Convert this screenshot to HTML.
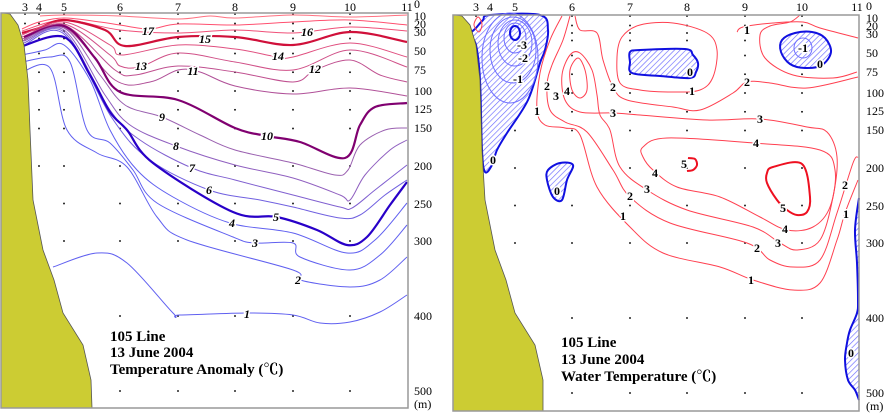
<!DOCTYPE html>
<html><head><meta charset="utf-8"><style>
html,body{margin:0;padding:0;background:#fff;}
svg{display:block;}
.st{font-family:"Liberation Serif",serif;font-size:12px;fill:#000;}
.ax{font-family:"Liberation Serif",serif;font-size:12px;fill:#000;}
.cl{font-family:"Liberation Serif",serif;font-size:12px;font-weight:bold;font-style:italic;fill:#000;stroke:#fff;stroke-width:3px;paint-order:stroke;text-anchor:middle;dominant-baseline:central;}
.cr{font-family:"Liberation Serif",serif;font-size:12px;font-weight:bold;fill:#000;stroke:#fff;stroke-width:3px;paint-order:stroke;text-anchor:middle;dominant-baseline:central;}
.tt{font-family:"Liberation Serif","Noto Serif CJK SC",serif;font-size:15px;font-weight:bold;fill:#000;}
</style></head><body>
<svg id="s" width="884" height="413" viewBox="0 0 884 413" xmlns="http://www.w3.org/2000/svg">
<defs>
<pattern id="hatch" width="4" height="4" patternUnits="userSpaceOnUse" patternTransform="rotate(45)">
<rect width="4" height="4" fill="#fff"/><line x1="0" y1="0" x2="0" y2="4" stroke="#6a6aff" stroke-width="1.3"/>
</pattern>
</defs>
<g id="dots"></g>
<g id="lines"></g>
<polygon fill="#cccc33" stroke="#555" stroke-width="0.8" points="1,13 3,13 10,14 18,25 24,45 28,80 30,130 33,200 43,250 54,280 63,313 83,345 91,380 92,408 1,408"/>
<polygon fill="#cccc33" stroke="#555" stroke-width="0.8" points="453,15 455,15 462,16 470,25 476,45 480,80 482,150 485,200 495,250 506,280 515,313 535,345 543,380 543,411 453,411"/>
<rect x="1" y="13" width="407" height="395" fill="none" stroke="#999" stroke-width="1.5"/>
<rect x="453" y="15" width="406" height="396" fill="none" stroke="#999" stroke-width="1.5"/>
<g class="st" text-anchor="middle">
<text x="25" y="11">3</text><text x="39" y="11">4</text><text x="64" y="11">5</text><text x="120" y="11">6</text><text x="178" y="11">7</text><text x="235" y="11">8</text><text x="293" y="11">9</text><text x="350" y="11">10</text><text x="407" y="11">11</text>
<text x="476" y="11">3</text><text x="490" y="11">4</text><text x="515" y="11">5</text><text x="572" y="11">6</text><text x="630" y="11">7</text><text x="687" y="11">8</text><text x="745" y="11">9</text><text x="802" y="11">10</text><text x="857" y="11">11</text>
</g>
<g class="cl">
<text x="148" y="31">17</text><text x="205" y="39">15</text><text x="307" y="32">16</text><text x="278" y="56">14</text><text x="141" y="66">13</text><text x="193" y="71">11</text><text x="315" y="69">12</text><text x="162" y="117">9</text><text x="267" y="136">10</text><text x="176" y="146">8</text><text x="192" y="168">7</text><text x="209" y="190">6</text><text x="276" y="217">5</text><text x="232" y="223">4</text><text x="255" y="243">3</text><text x="298" y="280">2</text><text x="247" y="314">1</text>
</g>
<g class="cr">
<text x="493" y="160">0</text><text x="690" y="72">0</text><text x="820" y="64">0</text><text x="557" y="191">0</text><text x="851" y="353">0</text>
<text x="518" y="79">-1</text><text x="523" y="58">-2</text><text x="522" y="45">-3</text><text x="803" y="48">-1</text>
<text x="537" y="111">1</text><text x="547" y="86">2</text><text x="556" y="96">3</text><text x="567" y="91">4</text>
<text x="613" y="87">2</text><text x="692" y="91">1</text><text x="747" y="30">1</text><text x="747" y="82">2</text>
<text x="613" y="113">3</text><text x="760" y="119">3</text><text x="756" y="143">4</text><text x="655" y="173">4</text><text x="647" y="189">3</text><text x="630" y="196">2</text><text x="623" y="216">1</text>
<text x="684" y="164">5</text><text x="783" y="208">5</text><text x="785" y="229">4</text><text x="778" y="243">3</text><text x="757" y="248">2</text><text x="751" y="280">1</text><text x="845" y="185">2</text><text x="846" y="214">1</text>
</g>
<text class="tt" x="110" y="341">105 Line</text>
<text class="tt" x="110" y="357">13 June 2004</text>
<text class="tt" x="110" y="374">Temperature Anomaly (℃)</text>
<text class="tt" x="561" y="347">105 Line</text>
<text class="tt" x="561" y="364">13 June 2004</text>
<text class="tt" x="561" y="381">Water Temperature (℃)</text>
<g class="ax">
<text x="414" y="8">0</text><text x="414" y="20">10</text><text x="414" y="28">20</text><text x="414" y="36">30</text>
<text x="414" y="55">50</text><text x="414" y="74">75</text><text x="414" y="95">100</text><text x="414" y="113">125</text><text x="414" y="132">150</text><text x="414" y="170">200</text><text x="414" y="208">250</text><text x="414" y="245">300</text><text x="414" y="320">400</text><text x="414" y="395">500</text><text x="414" y="408">(m)</text>
<text x="866" y="10">0</text><text x="866" y="22">10</text><text x="866" y="30">20</text><text x="866" y="38">30</text>
<text x="866" y="57">50</text><text x="866" y="76">75</text><text x="866" y="97">100</text><text x="866" y="115">125</text><text x="866" y="134">150</text><text x="866" y="172">200</text><text x="866" y="210">250</text><text x="866" y="247">300</text><text x="866" y="322">400</text><text x="866" y="397">500</text><text x="866" y="410">(m)</text>
</g>
</svg>
<script>
var NS="http://www.w3.org/2000/svg";
function cr(p,closed){
 var n=p.length,d="M"+p[0][0]+","+p[0][1];
 var P=function(i){ if(closed){return p[(i+n)%n];} return p[Math.max(0,Math.min(n-1,i))];};
 var m=closed?n:n-1;
 for(var i=0;i<m;i++){
  var p0=P(i-1),p1=P(i),p2=P(i+1),p3=P(i+2);
  var c1=[p1[0]+(p2[0]-p0[0])/6,p1[1]+(p2[1]-p0[1])/6];
  var c2=[p2[0]-(p3[0]-p1[0])/6,p2[1]-(p3[1]-p1[1])/6];
  d+=" C"+c1[0].toFixed(1)+","+c1[1].toFixed(1)+" "+c2[0].toFixed(1)+","+c2[1].toFixed(1)+" "+p2[0]+","+p2[1];
 }
 if(closed)d+="Z";
 return d;
}
var G=document.getElementById("lines");
function add(pts,col,w,closed,fill){
 var e=document.createElementNS(NS,"path");
 e.setAttribute("d",cr(pts,closed));
 e.setAttribute("fill",fill||"none");e.setAttribute("stroke",col);e.setAttribute("stroke-width",w);
 G.appendChild(e);
}
var L=[
[[[40,16],[64,15],[120,16],[178,19],[210,16],[235,18],[293,15],[350,17],[407,15]],"#ff7080",1],
[[[22,29],[39,22],[64,18],[100,22],[120,25],[150,29],[178,24],[235,25],[293,22],[350,20],[407,25]],"#ff5070",1],
[[[22,31],[64,20],[120,30],[178,33],[235,30],[293,33],[350,27],[407,31]],"#f05078",1],
[[[22,33],[39,28],[64,20],[105,30],[125,46],[178,37],[235,37],[293,45],[350,32],[407,42]],"#d0103a",2.2],
[[[22,35],[64,22],[110,45],[122,55],[178,45],[235,49],[278,57],[293,57],[350,43],[407,57]],"#e05080",1],
[[[22,37],[64,24],[110,55],[120,66],[140,67],[178,53],[235,62],[293,70],[350,50],[407,67]],"#d05088",1],
[[[22,39],[64,25],[115,70],[135,75],[178,66],[235,72],[293,82],[315,70],[350,60],[380,75],[407,82]],"#c05090",1],
[[[22,41],[64,27],[115,80],[150,82],[178,70],[200,72],[235,86],[293,94],[350,88],[407,96]],"#b05098",1],
[[[24,37],[64,26],[95,58],[120,92],[178,100],[235,128],[267,136],[300,142],[345,158],[360,125],[375,107],[407,103]],"#800070",2.2],
[[[24,39],[64,28],[100,75],[125,105],[162,117],[200,135],[235,150],[293,163],[335,175],[348,170],[360,145],[385,130],[407,128]],"#9a60b0",1],
[[[24,41],[64,30],[105,95],[130,125],[176,146],[235,165],[293,178],[340,195],[350,200],[365,175],[390,150],[407,140]],"#9060c0",1],
[[[24,43],[64,32],[110,110],[140,140],[192,168],[235,180],[293,195],[340,207],[352,208],[375,190],[407,165]],"#8060d0",1],
[[[24,45],[64,34],[112,118],[150,160],[209,190],[260,200],[293,207],[340,218],[360,215],[385,195],[407,180]],"#7060e0",1],
[[[20,47],[64,37],[90,75],[110,112],[127,130],[153,163],[233,212],[277,217],[317,230],[347,245],[367,237],[390,205],[407,182]],"#2800c8",2.2],
[[[22,55],[45,50],[64,45],[90,80],[110,130],[137,170],[173,197],[230,223],[293,233],[347,253],[375,240],[407,203]],"#6060f0",1],
[[[22,62],[50,57],[70,62],[87,130],[110,143],[133,170],[157,203],[233,237],[255,243],[293,243],[300,257],[350,270],[380,255],[407,225]],"#6060f0",1],
[[[22,72],[50,68],[67,130],[97,153],[127,167],[157,217],[187,240],[293,270],[300,280],[350,287],[380,280],[407,257]],"#6060f0",1],
[[[53,267],[97,253],[127,263],[173,313],[180,315],[247,313],[293,315],[320,323],[350,322],[380,312],[407,295]],"#6060f0",1]
];
L.forEach(function(l){add(l[0],l[1],l[2],false);});
var B="#1010e0";
add([[470,35],[476,28],[483,20],[490,15],[540,15],[548,30],[545,50],[540,63],[528,100],[507,133],[497,150],[492,165],[485,172],[482,150],[480,80],[476,45]],B,2,true,"url(#hatch)");
add([[630,52],[640,50],[685,49],[693,55],[698,63],[696,72],[690,78],[660,76],[632,73],[630,62]],B,2,true,"url(#hatch)");
add([[782,40],[795,33],[812,32],[825,38],[831,52],[822,65],[805,68],[790,64],[781,52]],B,2,true,"url(#hatch)");
add([[548,170],[560,163],[573,165],[567,180],[562,200],[553,197],[547,180]],B,2,true,"url(#hatch)");
add([[859,198],[855,230],[857,263],[858,300],[857,313],[850,330],[847,343],[845,360],[848,380],[855,390],[859,400]],B,2,false,"url(#hatch)");
[[515,33,5,7,2],[515,38,11,15,1],[515,43,17,23,1],[513,50,23,33,1],[510,58,28,45,1],[803,48,9,10,1]].forEach(function(c){
 var e=document.createElementNS(NS,"ellipse");e.setAttribute("cx",c[0]);e.setAttribute("cy",c[1]);e.setAttribute("rx",c[2]);e.setAttribute("ry",c[3]);
 e.setAttribute("fill","none");e.setAttribute("stroke",c[4]==2?B:"#7070ff");e.setAttribute("stroke-width",c[4]==2?2:1);G.appendChild(e);
});
var R="#ff4050";
add([[562,16],[550,40],[540,73],[537,110],[545,125],[565,128],[580,135],[597,187],[630,227],[663,253],[720,267],[753,280],[793,290],[820,283],[837,240],[845,213],[858,180]],R,1,false);
add([[570,16],[563,40],[552,65],[547,85],[550,110],[565,122],[587,132],[613,170],[630,197],[670,223],[747,243],[770,260],[793,267],[820,260],[837,213],[853,163],[858,157]],R,1,false);
add([[578,58],[585,70],[587,90],[580,98],[572,90],[570,70]],R,1,true);
add([[580,112],[565,100],[562,75],[570,55],[580,53],[592,70],[597,95],[600,115],[610,130],[620,167],[647,190],[687,210],[753,227],[780,243],[797,250],[820,240],[833,197],[837,157],[827,132],[807,127],[760,119],[707,120],[640,115],[613,113]],R,1,true);
add([[575,16],[580,30],[597,33],[603,60],[613,87],[627,100],[673,107],[700,110],[733,93],[747,82],[770,83],[807,88],[858,77]],R,1,false);
add([[622,37],[640,25],[673,23],[707,33],[717,50],[713,77],[700,90],[673,92],[640,90],[620,83],[617,57]],R,1,true);
add([[737,32],[743,27],[773,23],[803,22],[820,28],[858,38]],R,1,false);
add([[857,72],[833,78],[793,75],[765,58],[760,35],[770,26],[790,22],[800,15]],R,1,false);
add([[643,147],[667,138],[753,143],[820,150],[835,170],[830,207],[813,227],[787,230],[760,217],[720,197],[677,187],[653,170],[643,157]],R,1,true);
add([[767,173],[773,167],[802,164],[810,197],[807,212],[797,215],[787,210],[777,200],[767,183]],"#ee1020",2,true);
add([[688,158],[695,159],[697,165],[693,170],[687,171]],"#ee1020",2,false);
add([[478,17],[482,24],[479,32],[474,25]],R,1,true);
var D=document.getElementById("dots");
var depths=[0,10,20,30,50,75,100,125,150,200,250,300,400,500];
function landL(y){var pts=[[13,3],[14,10],[25,18],[45,24],[80,28],[130,30],[200,33],[250,43],[280,54],[313,63],[345,83],[380,91],[408,92]];
 for(var i=0;i<pts.length-1;i++){if(y>=pts[i][0]&&y<=pts[i+1][0]){var t=(y-pts[i][0])/(pts[i+1][0]-pts[i][0]);return pts[i][1]+t*(pts[i+1][1]-pts[i][1]);}}return 92;}
function dots(xs,off,yo){xs.forEach(function(x){depths.forEach(function(d){var y=16+0.75*d+yo;if(d==0)y=14+yo;
 if(x-off>landL(y)+6){var r=document.createElementNS(NS,"rect");r.setAttribute("x",x-0.8);r.setAttribute("y",y-0.8);r.setAttribute("width",1.6);r.setAttribute("height",1.6);r.setAttribute("fill","#000");D.appendChild(r);}});});}
dots([25,39,64,120,178,235,293,350],0,0);
dots([476,490,515,572,630,687,745,802],452,2);
</script>
</body></html>
